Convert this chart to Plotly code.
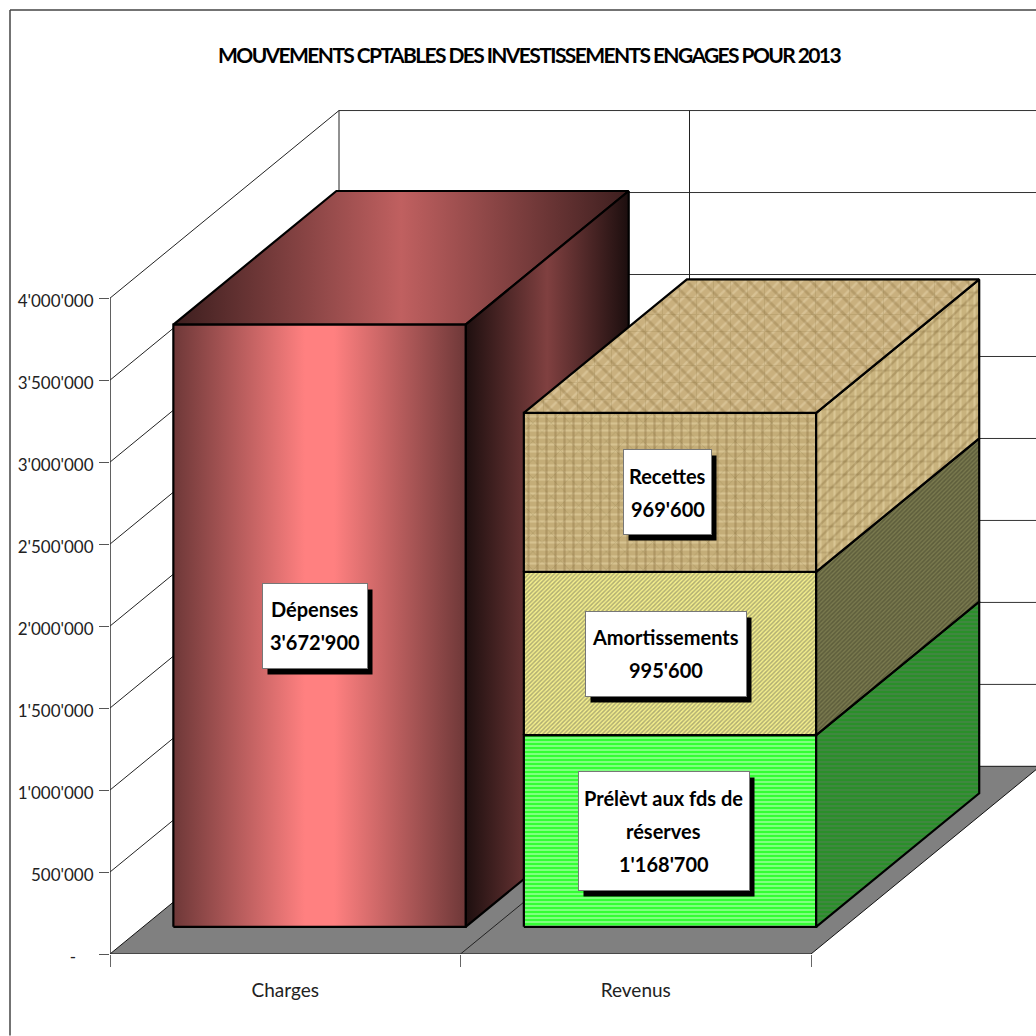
import plotly.graph_objects as go

# ---------- data ----------
TITLE = "MOUVEMENTS CPTABLES DES INVESTISSEMENTS ENGAGES POUR 2013"
CATEGORIES = ["Charges", "Revenus"]
CHARGES_SERIES = ["Dépenses"]
CHARGES_VALUES = [3672900]
REVENUS_SERIES = ["Prélèvt aux fds de|réserves", "Amortissements", "Recettes"]
REVENUS_VALUES = [1168700, 995600, 969600]
VALUE_TEXT = {3672900: "3'672'900", 1168700: "1'168'700", 995600: "995'600", 969600: "969'600"}
TICK_VALUES = [0, 500000, 1000000, 1500000, 2000000, 2500000, 3000000, 3500000, 4000000]
TICK_LABELS = ["-\u00a0\u00a0\u00a0\u00a0", "500'000", "1'000'000", "1'500'000", "2'000'000",
               "2'500'000", "3'000'000", "3'500'000", "4'000'000"]

# ---------- oblique projection of the 3-D chart box ----------
W = H = 1036
PLOT_L, PLOT_B = 110, 81.5
PX_PER_CAT = 350.5
PX_PER_UNIT = 164.05e-6
DEPTH_X = 229 / PX_PER_CAT
DEPTH_Y = 187.7 / PX_PER_UNIT
D0, D1 = 0.145, 0.857
BAR_L, BAR_R = 0.086, 0.920
WALL_MAX = TICK_VALUES[-1]


def P(c, v, d):
    return c + DEPTH_X * d, v + DEPTH_Y * d


def poly(points):
    xs, ys = zip(*[P(*p) for p in points + points[:1]])
    return list(xs), list(ys)


fig = go.Figure()


def face(points, lw=2.2, **kw):
    x, y = poly(points)
    fig.add_trace(go.Scatter(x=x, y=y, mode="lines", fill="toself", hoverinfo="skip",
                             showlegend=False, line=dict(color="black", width=lw), **kw))


def seg(a, b, color="#222222", width=1):
    xs, ys = zip(P(*a), P(*b))
    fig.add_trace(go.Scatter(x=list(xs), y=list(ys), mode="lines", hoverinfo="skip",
                             showlegend=False, line=dict(color=color, width=width)))


# floor
x_floor, y_floor = poly([(0, 0, 0), (2, 0, 0), (2, 0, 1), (0, 0, 1)])
fig.add_trace(go.Scatter(x=x_floor, y=y_floor, mode="lines", fill="toself", fillcolor="#808080",
                         hoverinfo="skip", showlegend=False, line=dict(color="#111111", width=1)))
seg((1, 0, 0), (1, 0, 1))

# walls
for v in TICK_VALUES[1:]:
    seg((0, v, 0), (0, v, 1))
for v in TICK_VALUES:
    seg((0, v, 1), (2.2, v, 1), color="#333333")
for c in (0, 1):
    seg((c, 0, 1), (c, WALL_MAX, 1))
seg((0, 0, 0), (0, WALL_MAX, 0))


def box_faces(c, lo, hi):
    l, r = c + BAR_L, c + BAR_R
    front = [(l, lo, D0), (r, lo, D0), (r, hi, D0), (l, hi, D0)]
    side = [(r, lo, D0), (r, lo, D1), (r, hi, D1), (r, hi, D0)]
    top = [(l, hi, D0), (r, hi, D0), (r, hi, D1), (l, hi, D1)]
    return front, side, top


def grad(*stops):
    return dict(type="horizontal", colorscale=[[p, col] for p, col in stops])


# Charges bar: gradient faces
front, side, top = box_faces(0, 0, CHARGES_VALUES[0])
face(top, fillgradient=grad((0, "#3c1e1e"), (0.5, "#c06060"), (1, "#3c1e1e")))
face(side, fillgradient=grad((0, "#1e0f0f"), (0.5, "#804040"), (1, "#1c0e0e")))
face(front, fillgradient=grad((0, "#6e3838"), (0.45, "#ff8080"), (0.55, "#ff8080"), (1, "#6e3838")))

# Revenus stack: patterned faces
STACK_STYLES = [
    dict(front=[dict(shape="-", bgcolor="#33ff33", fgcolor="#ccffcc", size=4, solidity=0.5)],
         side=[dict(shape="-", bgcolor="#2a8f2a", fgcolor="#5e7d5e", size=4, solidity=0.4)]),
    dict(front=[dict(shape="/", bgcolor="#f5f08c", fgcolor="#6a6a5a", size=3, solidity=0.5)],
         side=[dict(shape="/", bgcolor="#7a7a4e", fgcolor="#3f3f28", size=3, solidity=0.5)]),
    dict(front=[dict(shape="-", bgcolor="#c4ad78", fgcolor="rgba(240,225,180,0.8)", size=7, solidity=0.3),
                dict(shape="|", bgcolor="rgba(0,0,0,0)", fgcolor="rgba(130,105,55,0.7)", size=9, solidity=0.25),
                dict(shape="x", bgcolor="rgba(0,0,0,0)", fgcolor="rgba(110,90,40,0.35)", size=13, solidity=0.12)],
         side=[dict(shape="|", bgcolor="#c9b37e", fgcolor="rgba(240,225,180,0.8)", size=7, solidity=0.3),
               dict(shape="/", bgcolor="rgba(0,0,0,0)", fgcolor="rgba(130,105,55,0.7)", size=9, solidity=0.25),
               dict(shape="-", bgcolor="rgba(0,0,0,0)", fgcolor="rgba(110,90,40,0.35)", size=13, solidity=0.15)],
         top=[dict(shape="/", bgcolor="#c9b07e", fgcolor="rgba(238,222,182,0.75)", size=8, solidity=0.3),
              dict(shape="\\", bgcolor="rgba(0,0,0,0)", fgcolor="rgba(130,105,55,0.6)", size=11, solidity=0.25),
              dict(shape="+", bgcolor="rgba(0,0,0,0)", fgcolor="rgba(110,90,40,0.3)", size=17, solidity=0.12)]),
]


def styled(points, styles):
    x, y = poly(points)
    for i, st in enumerate(styles):
        last = i == len(styles) - 1
        fig.add_trace(go.Scatter(x=x, y=y, mode="lines", fill="toself", fillpattern=st, fillcolor=st["bgcolor"],
                                 hoverinfo="skip", showlegend=False,
                                 line=dict(color="black" if last else "rgba(0,0,0,0)", width=2.2)))


lo = 0
stack_bounds = []
for val in REVENUS_VALUES:
    hi = lo + val
    stack_bounds.append((lo, hi))
    lo = hi
for (lo, hi), st in zip(stack_bounds, STACK_STYLES):
    front, side, top = box_faces(1, lo, hi)
    styled(front, st["front"])
    styled(side, st["side"])
styled(box_faces(1, *stack_bounds[-1])[2], STACK_STYLES[-1]["top"])

# y axis line
seg((0, 0, 0), (0, WALL_MAX, 0), color="#333333")

# data labels
annotations = []
LABEL_FONT = dict(family="Lato, sans-serif", size=20, color="black")
LINE_STEP = 33


def data_label(c, lo, hi, name, value, box_w, box_h, dx=0):
    cx, cy = P(c + 0.5, (lo + hi) / 2, D0)
    common = dict(x=cx, y=cy, xref="x", yref="y", showarrow=False, borderpad=0, xanchor="center", yanchor="middle")
    annotations.append(dict(text=" ", width=box_w, height=box_h, bgcolor="black",
                            xshift=dx + 5, yshift=-6, **common))
    annotations.append(dict(text=" ", width=box_w, height=box_h, bgcolor="white", bordercolor="#777777",
                            borderwidth=1, xshift=dx, **common))
    lines = name.split("|") + [VALUE_TEXT[value]]
    n = len(lines)
    for i, t in enumerate(lines):
        annotations.append(dict(text=f"<b>{t}</b>", font=LABEL_FONT, xshift=dx,
                                yshift=((n - 1) / 2 - i) * LINE_STEP, **common))


data_label(0, 0, CHARGES_VALUES[0], CHARGES_SERIES[0], CHARGES_VALUES[0], 104, 84, dx=-3)
LABEL_BOXES = [(170, 118, -5), (160, 84, -3), (87, 84, -1)]
for (lo, hi), name, val, (bw, bh, dx) in zip(stack_bounds, REVENUS_SERIES, REVENUS_VALUES, LABEL_BOXES):
    data_label(1, lo, hi, name, val, bw, bh, dx=dx)

# outer frame (runs off the right and bottom of the page)
FRAME_X = (10 - PLOT_L) / (W - PLOT_L)
FRAME_Y = (H - 10 - PLOT_B) / (H - PLOT_B)
shapes = [
    dict(type="line", xref="paper", yref="paper", x0=FRAME_X, x1=1.01, y0=FRAME_Y, y1=FRAME_Y,
         line=dict(color="#444444", width=1.5)),
    dict(type="line", xref="paper", yref="paper", x0=FRAME_X, x1=FRAME_X, y0=-PLOT_B / (H - PLOT_B), y1=FRAME_Y,
         line=dict(color="#444444", width=1.5)),
]

fig.update_layout(
    width=W, height=H, margin=dict(l=PLOT_L, r=0, t=0, b=PLOT_B, autoexpand=False),
    paper_bgcolor="white", plot_bgcolor="rgba(0,0,0,0)", showlegend=False,
    title=dict(text=f"<b>{TITLE}</b>", x=529 / W, y=1 - 56 / H, xanchor="center", yanchor="middle",
               font=dict(family="Lato, sans-serif", size=21, color="black")),
    annotations=annotations, shapes=shapes,
    xaxis=dict(range=[0, (W - PLOT_L) / PX_PER_CAT], showgrid=False, zeroline=False, showline=False,
               tickmode="array", tickvals=[0.5, 1.5], ticktext=CATEGORIES, ticks="", ticklabelstandoff=23,
               tickfont=dict(family="Lato, sans-serif", size=19, color="#222222"),
               minor=dict(tickmode="array", tickvals=[0, 1, 2], ticks="outside", ticklen=12, tickcolor="#666666",
                          showgrid=False)),
    yaxis=dict(range=[0, (H - PLOT_B) / PX_PER_UNIT], showgrid=False, zeroline=False, showline=False,
               tickmode="array", tickvals=TICK_VALUES, ticktext=TICK_LABELS, ticks="outside", ticklen=10,
               tickcolor="#555555", ticklabelstandoff=2, ticklabelshift=3,
               tickfont=dict(family="Lato, sans-serif", size=17, color="#222222")),
)

fig.write_html("out.html",
               post_script="document.body.style.margin='0';document.body.style.overflow='hidden';"
                           "document.querySelectorAll('.gtitle').forEach(function(e){e.style.letterSpacing='-1.6px';});",
               config={"displayModeBar": False})
